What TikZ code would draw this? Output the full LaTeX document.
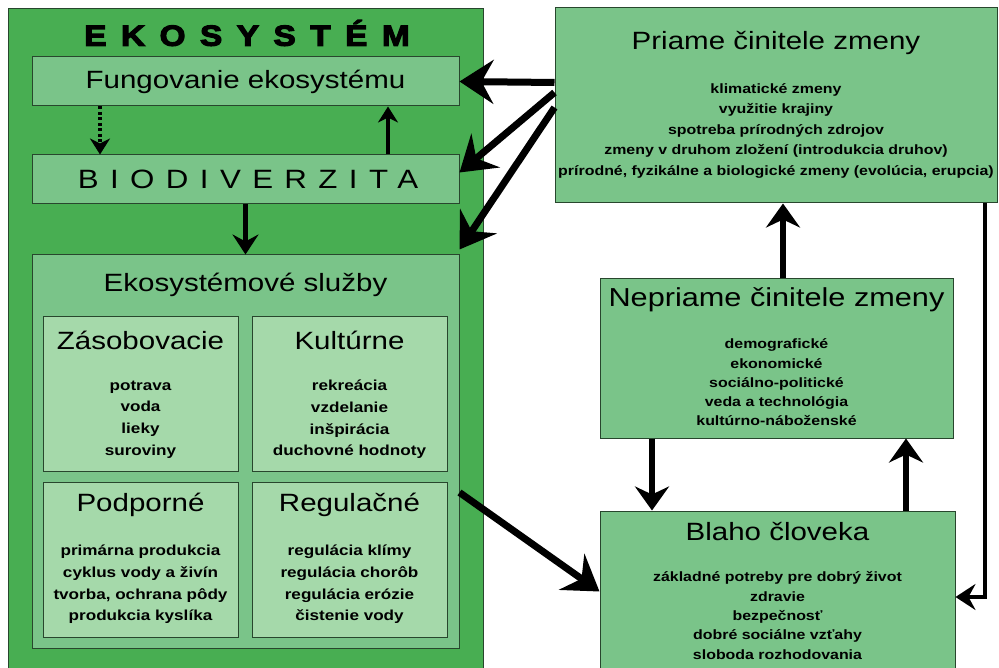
\documentclass[tikz,border=0pt]{standalone}
\usepackage{fontspec}
\setmainfont{Liberation Sans}[FakeStretch=1.18]
\newfontfamily\ekofont{Liberation Sans Bold}[FakeStretch=1.15,FakeBold=4,LetterSpace=50]
\newfontfamily\biofont{Liberation Sans}[FakeStretch=1.18,LetterSpace=43]
\usetikzlibrary{arrows.meta}
\definecolor{ekogreen}{RGB}{72,174,82}
\definecolor{boxgreen}{RGB}{122,196,137}
\definecolor{subgreen}{RGB}{165,217,170}
\definecolor{boxline}{RGB}{40,70,45}
\begin{document}
\begin{tikzpicture}[x=1pt, y=-1pt,
  box/.style={draw=boxline, line width=1pt, fill=boxgreen, inner sep=0pt},
  head/.style={font=\fontsize{25}{30}\selectfont},
  items/.style={align=center, font=\bfseries\fontsize{13.5}{20.5}\selectfont},
  subitems/.style={align=center, font=\bfseries\fontsize{14.5}{21.7}\selectfont},
  bigarr/.style={line width=7pt, -{Stealth[length=34pt,width=44pt,inset=12pt]}},
  midarr/.style={line width=6pt, -{Stealth[length=24pt,width=34pt,inset=8pt]}},
  thinarr/.style={line width=4.5pt, -{Stealth[length=20pt,width=26pt,inset=7pt]}},
  smallarr/.style={line width=4pt, -{Stealth[length=16pt,width=20pt,inset=5pt]}}]
  \clip (0,0) rectangle (999,668);
  \fill[white] (0,0) rectangle (999,668);

  % Ekosystem
  \node[box, fill=ekogreen, minimum width=475pt, minimum height=680pt, anchor=north west] (eko) at (8,8) {};
  \node[font=\ekofont\fontsize{29}{30}\selectfont] (ekoT) at (247,33) {EKOSYSTÉM};
  \node[box, head, minimum width=427pt, minimum height=49pt] (fung) at (245.5,81.5) {Fungovanie ekosystému};
  \node[box, minimum width=427pt, minimum height=49pt, font=\biofont\fontsize{26.5}{30}\selectfont] (bio) at (245.5,179.5) {\hspace{5pt}BIODIVERZITA};
  \node[box, minimum width=427pt, minimum height=393pt] (sluzby) at (245.5,451.5) {};
  \node[head] (sluzbyT) at (245.5,285) {Ekosystémové služby};

  \node[box, fill=subgreen, minimum width=195pt, minimum height=154pt] (zas) at (140.5,394) {};
  \node[head] (zasT) at (140.5,340) {Zásobovacie};
  \node[subitems] (zasI) at (140.5,419.5) {potrava\\voda\\lieky\\suroviny};
  \node[box, fill=subgreen, minimum width=195pt, minimum height=154pt] (kul) at (349.5,394) {};
  \node[head] (kulT) at (349.5,340) {Kultúrne};
  \node[subitems] (kulI) at (349.5,419.5) {rekreácia\\vzdelanie\\inšpirácia\\duchovné hodnoty};
  \node[box, fill=subgreen, minimum width=195pt, minimum height=155pt] (pod) at (140.5,559.5) {};
  \node[head] (podT) at (140.5,505) {Podporné};
  \node[subitems] (podI) at (140.5,584.5) {primárna produkcia\\cyklus vody a živín\\tvorba, ochrana pôdy\\produkcia kyslíka};
  \node[box, fill=subgreen, minimum width=195pt, minimum height=155pt] (reg) at (349.5,559.5) {};
  \node[head] (regT) at (349.5,505) {Regulačné};
  \node[subitems] (regI) at (349.5,584.5) {regulácia klímy\\regulácia chorôb\\regulácia erózie\\čistenie vody};

  % right column
  \node[box, minimum width=442pt, minimum height=195pt] (priame) at (776,105.5) {};
  \node[head] (priameT) at (776,43) {Priame činitele zmeny};
  \node[items] (priameI) at (776,130.5) {klimatické zmeny\\využitie krajiny\\spotreba prírodných zdrojov\\zmeny v druhom zložení (introdukcia druhov)\\prírodné, fyzikálne a biologické zmeny (evolúcia, erupcia)};
  \node[box, minimum width=353pt, minimum height=159pt] (nepr) at (776.5,358.5) {};
  \node[head, font=\fontsize{26}{30}\selectfont] (neprT) at (776.5,300) {Nepriame činitele zmeny};
  \node[items, font=\bfseries\fontsize{13.5}{19.3}\selectfont] (neprI) at (776.5,382.5) {demografické\\ekonomické\\sociálno-politické\\veda a technológia\\kultúrno-náboženské};
  \node[box, minimum width=355pt, minimum height=199pt] (blaho) at (777.5,610.5) {};
  \node[head] (blahoT) at (777.5,532) {Blaho človeka};
  \node[items, font=\bfseries\fontsize{13.5}{19.3}\selectfont] (blahoI) at (777.5,615.5) {základné potreby pre dobrý život\\zdravie\\bezpečnosť\\dobré sociálne vzťahy\\sloboda rozhodovania};

  \coordinate (dashx) at (100,0);
  \coordinate (upbx) at (388,0);
  \coordinate (upx) at (783,0);
  \coordinate (dnx) at (652,0);
  \coordinate (up2x) at (906,0);
  \coordinate (rt) at (985,597);

  % arrows inside the ecosystem
  \draw[smallarr, dash pattern=on 3pt off 2.5pt] (dashx |- fung.south) -- (dashx |- bio.north);
  \draw[smallarr] (upbx |- bio.north) -- (upbx |- fung.south);
  \draw[thinarr] (bio.south) -- (bio.south |- sluzby.north);

  % drivers
  \draw[bigarr] ([yshift=-75pt]priame.north west) -- (fung.east);
  \draw[bigarr] ([yshift=-85pt]priame.north west) -- ([yshift=7pt]bio.east);
  \draw[bigarr] ([yshift=-100pt]priame.north west) -- ([yshift=5pt]sluzby.north east);
  \draw[bigarr] ([yshift=-238pt]sluzby.north east) -- ([yshift=-81pt]blaho.north west);
  \draw[midarr] (upx |- nepr.north) -- (upx |- priame.south);
  \draw[midarr] (dnx |- nepr.south) -- (dnx |- blaho.north);
  \draw[midarr] (up2x |- blaho.north) -- (up2x |- nepr.south);
  \draw[thinarr] (rt |- priame.south) -- (rt) -- (rt -| blaho.east);
\end{tikzpicture}
\end{document}
